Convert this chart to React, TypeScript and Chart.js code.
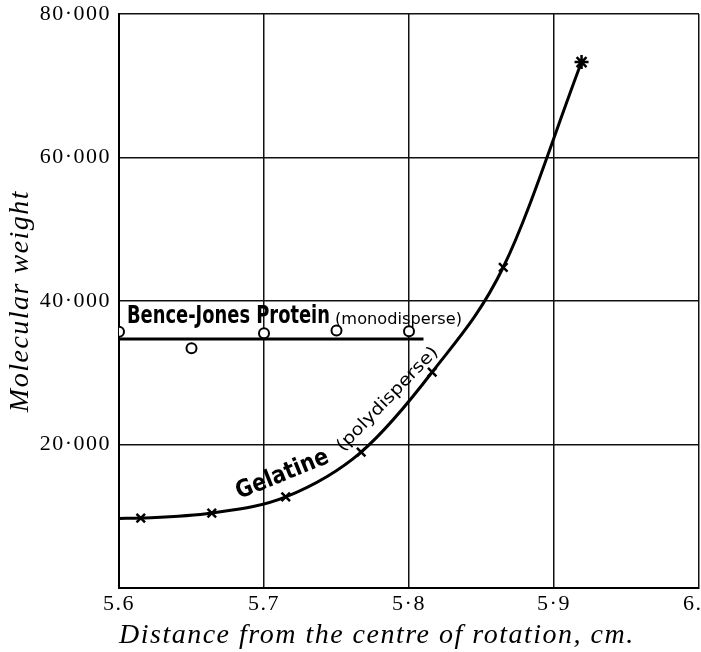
import React, { useEffect, useRef } from 'react';
import { Chart, registerables } from 'chart.js';

Chart.register(...registerables);

// ---- data ----
const benceX = [5.6, 5.65, 5.7, 5.75, 5.8];
const benceY = [35700, 33400, 35500, 35900, 35800];
const benceLineX = [5.6, 5.81];
const benceLineY = [34700, 34700];

const gelatineX = [5.615, 5.664, 5.715, 5.767, 5.816, 5.865, 5.919];
const gelatineY = [9750, 10450, 12700, 18950, 30100, 44700, 73300];
const gelatineCurveX = [5.6, ...gelatineX];
const gelatineCurveY = [9700, ...gelatineY];

const xTickLabels = ['5.6', '5.7', '5·8', '5·9', '6.0'];
const yTickLabels = ['', '20·000', '40·000', '60·000', '80·000'];

const xTitle = 'Distance from the centre of rotation, cm.';
const yTitle = 'Molecular weight';

// annotation texts (placed in data coordinates)
const annotations = [
  { text: 'Bence-Jones Protein', x: 5.6055, y: 36930, angle: 0, font: 'bold 24px "DejaVu Sans"', width: 203 },
  { text: '(monodisperse)', x: 5.749, y: 36800, angle: 0, font: '15px "DejaVu Sans"', width: 127 },
  { text: 'Gelatine', x: 5.683, y: 12400, angle: -22, font: 'bold 24px "DejaVu Sans"', width: 98 },
  { text: '(polydisperse)', x: 5.7545, y: 18950, angle: -46, font: '17px "DejaVu Sans"', width: 138 },
];

const toPts = (xs: number[], ys: number[]) => xs.map((x, i) => ({ x, y: ys[i] }));

const CANVAS_W = 730;
const CANVAS_H = 652;
const SERIF = '"Liberation Serif", serif';

const spacingPlugin = {
  id: 'letterSpacing',
  beforeUpdate(chart: any) {
    (chart.ctx as any).letterSpacing = '1.5px';
  },
  beforeLayout(chart: any) {
    (chart.ctx as any).letterSpacing = '1.5px';
  },
  beforeDraw(chart: any) {
    (chart.ctx as any).letterSpacing = '1.5px';
  },
};

const textPlugin = {
  id: 'textAnnotations',
  afterDatasetsDraw(chart: any) {
    const { ctx, scales } = chart;
    const xs = scales.x;
    const ys = scales.y;
    ctx.save();
    (ctx as any).letterSpacing = '0px';
    ctx.fillStyle = '#000';
    ctx.textBaseline = 'alphabetic';
    ctx.textAlign = 'left';
    for (const a of annotations) {
      const px = xs.getPixelForValue(a.x);
      const py = ys.getPixelForValue(a.y);
      ctx.save();
      ctx.font = a.font;
      const w = ctx.measureText(a.text).width;
      ctx.translate(px, py);
      ctx.rotate((a.angle * Math.PI) / 180);
      ctx.scale(a.width / w, 1);
      ctx.fillText(a.text, 0, 0);
      ctx.restore();
    }
    ctx.restore();
    (ctx as any).letterSpacing = '1.5px';
  },
};

export default function App() {
  const ref = useRef<HTMLCanvasElement | null>(null);

  useEffect(() => {
    document.body.style.margin = '0';
    document.body.style.overflow = 'hidden';
    document.body.style.background = '#fff';
    const canvas = ref.current;
    if (!canvas) return;

    const chart = new Chart(canvas, {
      type: 'scatter',
      data: {
        datasets: [
          {
            label: 'Bence-Jones points',
            data: toPts(benceX, benceY),
            showLine: false,
            pointStyle: 'circle',
            pointRadius: 5,
            pointBorderWidth: 2,
            pointBackgroundColor: '#fff',
            pointBorderColor: '#000',
          },
          {
            label: 'Gelatine points',
            data: toPts(gelatineX, gelatineY),
            showLine: false,
            pointStyle: gelatineX.map((_, i) => (i === gelatineX.length - 1 ? 'star' : 'crossRot')) as any,
            pointRadius: gelatineX.map((_, i) => (i === gelatineX.length - 1 ? 7 : 6)) as any,
            pointBorderWidth: 2.5,
            pointBorderColor: '#000',
            pointBackgroundColor: '#000',
          },
          {
            label: 'Bence-Jones line',
            data: toPts(benceLineX, benceLineY),
            showLine: true,
            borderColor: '#000',
            borderWidth: 3,
            pointRadius: 0,
          },
          {
            label: 'Gelatine curve',
            data: toPts(gelatineCurveX, gelatineCurveY),
            showLine: true,
            borderColor: '#000',
            borderWidth: 3,
            pointRadius: 0,
            cubicInterpolationMode: 'monotone',
          },
        ],
      },
      options: {
        animation: false,
        responsive: false,
        events: [],
        layout: { padding: { top: 14, right: CANVAS_W - 699, left: 0, bottom: 0 } },
        plugins: {
          legend: { display: false },
          tooltip: { enabled: false },
        },
        scales: {
          x: {
            type: 'linear',
            min: 5.6,
            max: 6.0,
            afterFit: (s: any) => {
              s.height = CANVAS_H - 588;
              s.paddingLeft = 0;
              s.paddingRight = 0;
            },
            afterBuildTicks: (s: any) => {
              s.ticks = xTickLabels.map((_, i) => ({ value: 5.6 + i * 0.1 }));
            },
            ticks: {
              color: '#000',
              padding: 3,
              maxRotation: 0,
              font: { family: SERIF, size: 22 },
              callback: (_v: any, i: number) => xTickLabels[i],
            },
            grid: { color: '#111', lineWidth: 1.5, drawTicks: false },
            border: { display: true, color: '#000', width: 2 },
            title: {
              display: true,
              text: xTitle,
              align: 'start',
              color: '#000',
              font: { family: SERIF, size: 28, style: 'italic' },
              padding: { top: 0, bottom: 0 },
            },
          },
          y: {
            type: 'linear',
            min: 0,
            max: 80000,
            afterFit: (s: any) => {
              s.width = 119;
              s.paddingTop = 0;
              s.paddingBottom = 0;
            },
            afterBuildTicks: (s: any) => {
              s.ticks = yTickLabels.map((_, i) => ({ value: i * 20000 }));
            },
            ticks: {
              color: '#000',
              padding: 8,
              font: { family: SERIF, size: 22 },
              callback: (_v: any, i: number) => yTickLabels[i],
            },
            grid: { color: '#111', lineWidth: 1.5, drawTicks: false },
            border: { display: true, color: '#000', width: 2 },
            title: {
              display: true,
              text: yTitle,
              color: '#000',
              font: { family: SERIF, size: 28, style: 'italic' },
              padding: { top: 4, bottom: 0 },
            },
          },
        },
      },
      plugins: [spacingPlugin, textPlugin],
    } as any);

    return () => chart.destroy();
  }, []);

  return (
    <canvas
      ref={ref}
      width={CANVAS_W}
      height={CANVAS_H}
      style={{ display: 'block', width: CANVAS_W + 'px', height: CANVAS_H + 'px' }}
    />
  );
}
